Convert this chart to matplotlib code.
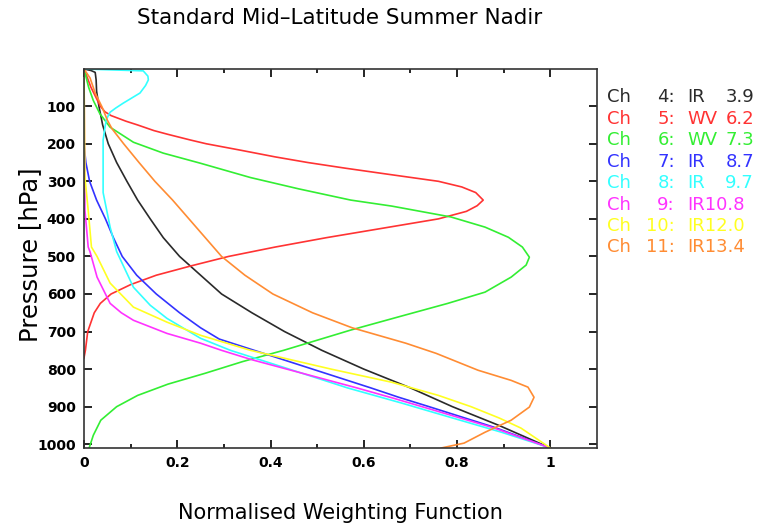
import matplotlib
matplotlib.use("Agg")
import matplotlib.pyplot as plt
import numpy as np

# pressure levels (hPa) and normalised weighting functions
p_ch4 = [1, 5, 10, 30, 60, 100, 150, 200, 250, 300, 350, 400, 450, 500, 550, 600, 650, 700, 750, 800, 850, 900, 950, 1010]
w_ch4 = [0.0, 0.015, 0.024, 0.026, 0.027, 0.032, 0.04, 0.052, 0.07, 0.092, 0.115, 0.142, 0.17, 0.205, 0.25, 0.295, 0.36, 0.43, 0.51, 0.60, 0.70, 0.79, 0.89, 1.0]

p_ch5 = [1, 50, 80, 100, 115, 125, 140, 150, 165, 175, 190, 200, 217, 235, 250, 265, 280, 300, 315, 330, 350,
         365, 380, 400, 425, 450, 475, 500, 525, 550, 575, 600, 625, 650, 700, 750, 770]
w_ch5 = [0.0, 0.015, 0.027, 0.035, 0.045, 0.058, 0.09, 0.115, 0.15, 0.18, 0.228, 0.262, 0.335, 0.41, 0.48, 0.56, 0.645, 0.76, 0.81, 0.84, 0.856,
         0.843, 0.82, 0.76, 0.64, 0.52, 0.41, 0.31, 0.23, 0.155, 0.10, 0.058, 0.035, 0.022, 0.008, 0.003, 0.0]

p_ch6 = [1, 50, 85, 120, 156, 196, 225, 252, 290, 320, 350, 366, 395, 422, 449, 475, 502, 523, 555, 595, 625,
         659, 696, 750, 780, 811, 840, 870, 900, 936, 976, 1010]
w_ch6 = [0.0, 0.01, 0.02, 0.034, 0.056, 0.106, 0.17, 0.25, 0.357, 0.46, 0.572, 0.66, 0.787, 0.86, 0.91, 0.94, 0.955, 0.948, 0.916, 0.86, 0.78,
         0.68, 0.572, 0.428, 0.34, 0.26, 0.18, 0.115, 0.07, 0.036, 0.02, 0.011]

p_ch7 = [1, 200, 250, 300, 350, 400, 450, 500, 550, 600, 650, 690, 720, 750, 800, 850, 875, 900, 955, 1010]
w_ch7 = [0.0, 0.0, 0.004, 0.012, 0.027, 0.046, 0.063, 0.082, 0.113, 0.155, 0.205, 0.25, 0.29, 0.365, 0.49, 0.615, 0.675, 0.74, 0.88, 1.0]

p_ch8 = [1, 6, 20, 30, 45, 65, 80, 92, 105, 116, 135, 156, 190, 330, 422, 487, 545, 582, 630, 665, 718,
         750, 800, 850, 890, 930, 968, 1010]
w_ch8 = [0.0, 0.127, 0.137, 0.138, 0.132, 0.12, 0.10, 0.084, 0.068, 0.056, 0.048, 0.045, 0.041, 0.041, 0.056, 0.07, 0.092, 0.106, 0.142, 0.178, 0.25,
         0.314, 0.44, 0.565, 0.68, 0.79, 0.895, 1.0]

p_ch9 = [1, 377, 475, 488, 555, 625, 650, 670, 705, 731, 750, 775, 800, 850, 878, 957, 1010]
w_ch9 = [0.0, 0.002, 0.009, 0.013, 0.028, 0.056, 0.08, 0.106, 0.178, 0.25, 0.295, 0.36, 0.435, 0.585, 0.665, 0.88, 1.0]

p_ch10 = [1, 289, 377, 475, 500, 571, 635, 675, 710, 750, 800, 835, 870, 900, 930, 957, 1010]
w_ch10 = [0.0, 0.002, 0.009, 0.016, 0.028, 0.056, 0.106, 0.178, 0.25, 0.357, 0.53, 0.66, 0.76, 0.83, 0.89, 0.937, 1.0]

p_ch11 = [1, 25, 65, 103, 137, 160, 200, 250, 300, 350, 400, 450, 500, 550, 600, 650, 690, 731, 758, 803, 830,
          848, 875, 901, 936, 968, 997, 1010]
w_ch11 = [0.0, 0.013, 0.024, 0.039, 0.05, 0.06, 0.085, 0.118, 0.152, 0.19, 0.225, 0.26, 0.295, 0.345, 0.405, 0.49, 0.575, 0.69, 0.755, 0.845, 0.916,
          0.952, 0.965, 0.955, 0.916, 0.86, 0.815, 0.766]

channels = ["4", "5", "6", "7", "8", "9", "10", "11"]
bands = ["IR", "WV", "WV", "IR", "IR", "IR", "IR", "IR"]
wavelengths = ["3.9", "6.2", "7.3", "8.7", "9.7", "10.8", "12.0", "13.4"]
colors = ["#2a2a2a", "#ff3333", "#33ee33", "#3333ff", "#33ffff", "#ff33ff", "#ffff22", "#ff8c33"]

pressures = [p_ch4, p_ch5, p_ch6, p_ch7, p_ch8, p_ch9, p_ch10, p_ch11]
weights = [w_ch4, w_ch5, w_ch6, w_ch7, w_ch8, w_ch9, w_ch10, w_ch11]

fig = plt.figure(figsize=(7.71, 5.25), dpi=100)
ax = fig.add_axes([84 / 771, 1 - 448 / 525, (597 - 84) / 771, (448 - 69) / 525])

for p, w, c in zip(pressures, weights, colors):
    ax.plot(w, p, color=c, lw=1.2)

ax.set_xlim(0, 1.1)
ax.set_ylim(1010, 1)
ax.set_xticks([0, 0.2, 0.4, 0.6, 0.8, 1.0])
ax.set_xticklabels(["0", "0.2", "0.4", "0.6", "0.8", "1"])
ax.set_xticks(np.arange(0.1, 1.1, 0.2), minor=True)
ax.set_yticks(np.arange(100, 1001, 100))
ax.tick_params(which="both", direction="in", top=True, right=True, width=1.2,
               labelsize=10, pad=6)
ax.tick_params(which="major", length=6)
ax.tick_params(which="minor", length=3)
for lbl in ax.get_xticklabels() + ax.get_yticklabels():
    lbl.set_fontweight("bold")
for s in ax.spines.values():
    s.set_linewidth(1.2)
    s.set_color("#333333")

fig.text(30 / 771, 1 - 255 / 525, "Pressure [hPa]", fontsize=17.5, rotation=90,
         ha="center", va="center")
fig.text(340 / 771, 1 - 513 / 525, "Normalised Weighting Function", fontsize=15,
         ha="center", va="center")
fig.text(340 / 771, 1 - 18 / 525, "Standard Mid\u2013Latitude Summer Nadir", fontsize=15.5,
         ha="center", va="center")

# channel key on the right
for i in range(len(channels)):
    y = 1 - (97 + i * 21.5) / 525
    kw = dict(fontsize=13, color=colors[i], va="center")
    fig.text(607 / 771, y, "Ch", ha="left", **kw)
    fig.text(675 / 771, y, channels[i] + ":", ha="right", **kw)
    if len(wavelengths[i]) > 3:
        fig.text(687 / 771, y, bands[i] + wavelengths[i], ha="left", **kw)
    else:
        fig.text(687 / 771, y, bands[i], ha="left", **kw)
        fig.text(754 / 771, y, wavelengths[i], ha="right", **kw)

fig.savefig("out.png", dpi=100)
